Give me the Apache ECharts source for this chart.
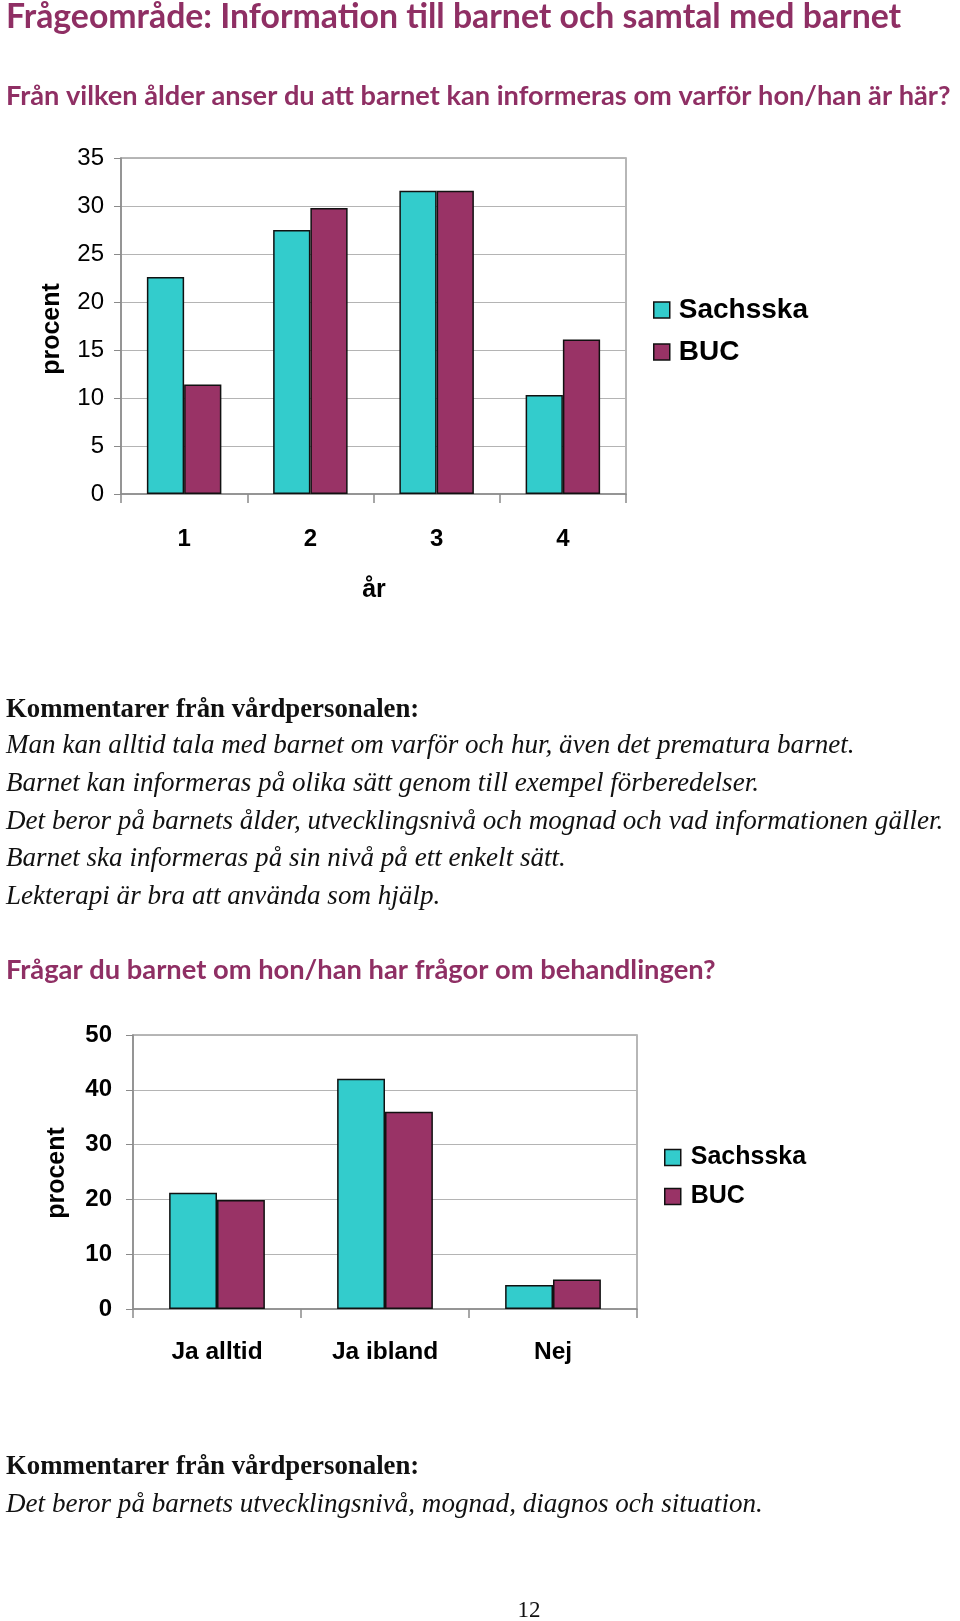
<!DOCTYPE html>
<html><head><meta charset="utf-8">
<script src="https://cdn.jsdelivr.net/npm/echarts@6/dist/echarts.min.js"></script>
<style>html,body{margin:0;padding:0;background:#fff}#c{width:960px;height:1621px}</style>
</head><body><div id="c"></div>
<script>
// ---- data ----
const categories1 = ['1', '2', '3', '4'];
const sachsska1 = [22.6, 27.5, 31.6, 10.3];
const buc1 = [11.4, 29.8, 31.6, 16.1];
const categories2 = ['Ja alltid', 'Ja ibland', 'Nej'];
const sachsska2 = [21.2, 42.0, 4.4];
const buc2 = [19.9, 36.0, 5.4];
const seriesNames = ['Sachsska', 'BUC'];
const pageTitle = 'Frågeområde: Information till barnet och samtal med barnet';
const question1 = 'Från vilken ålder anser du att barnet kan informeras om varför hon/han är här?';
const question2 = 'Frågar du barnet om hon/han har frågor om behandlingen?';
const commentHead = 'Kommentarer från vårdpersonalen:';
const comments1 = [
  'Man kan alltid tala med barnet om varför och hur, även det prematura barnet.',
  'Barnet kan informeras på olika sätt genom till exempel förberedelser.',
  'Det beror på barnets ålder, utvecklingsnivå och mognad och vad informationen gäller.',
  'Barnet ska informeras på sin nivå på ett enkelt sätt.',
  'Lekterapi är bra att använda som hjälp.'
];
const comments2 = ['Det beror på barnets utvecklingsnivå, mognad, diagnos och situation.'];
const pageNumber = '12';
const xName1 = 'år';
const yName = 'procent';

// ---- style ----
const TEAL = '#33CCCC', MAROON = '#993366', HEAD = '#8f2f64';
const SANS = '"Liberation Sans", Arial, sans-serif';
const HUM = 'Lato, "Open Sans", sans-serif';
const SERIF = '"Liberation Serif", "DejaVu Serif", serif';

const chart = echarts.init(document.getElementById('c'), null, {renderer: 'canvas'});

function txt(text, x, y, font, fill, extra) {
  return {type: 'text', style: Object.assign({text, x, y, font, fill, align: 'left', verticalAlign: 'middle'}, extra || {})};
}
const graphics = [
  txt(pageTitle, 6, 17, 'bold 33.8px ' + HUM, HEAD),
  txt(question1, 6, 96, 'bold 27.2px ' + HUM, HEAD),
  txt(commentHead, 6, 710, 'bold 26.8px ' + SERIF, '#111'),
  txt(question2, 6, 970, 'bold 27.3px ' + HUM, HEAD),
  txt(commentHead, 6, 1467, 'bold 26.8px ' + SERIF, '#111'),
  txt(pageNumber, 529, 1611, '23px ' + SERIF, '#111', {align: 'center'}),
  txt(xName1, 374, 590, 'bold 25px ' + SANS, '#000', {align: 'center'}),
  {type: 'text', x: 52, y: 329, rotation: Math.PI / 2,
   style: {text: yName, x: 0, y: 0, font: 'bold 25px ' + SANS, fill: '#000', align: 'center', verticalAlign: 'middle'}},
  {type: 'text', x: 57, y: 1173, rotation: Math.PI / 2,
   style: {text: yName, x: 0, y: 0, font: 'bold 25px ' + SANS, fill: '#000', align: 'center', verticalAlign: 'middle'}}
];
comments1.forEach((c, i) => graphics.push(txt(c, 6, 746 + i * 37.7, 'italic 27.1px ' + SERIF, '#111')));
comments2.forEach((c, i) => graphics.push(txt(c, 6, 1505 + i * 37.7, 'italic 27.1px ' + SERIF, '#111')));

const gridLine = {show: true, lineStyle: {color: '#b4b4b4', width: 1.2}};
const axisGray = {show: true, lineStyle: {color: '#8a8a8a', width: 1.5}};
const barStyle = c => ({color: c, borderColor: '#111', borderWidth: 1.5});

chart.setOption({
  animation: false,
  backgroundColor: '#fff',
  graphic: graphics,
  legend: [
    {data: seriesNames, orient: 'vertical', left: 653, top: 296, padding: 0, itemWidth: 16, itemHeight: 16, itemGap: 14,
     icon: 'rect', itemStyle: {borderColor: '#111', borderWidth: 1.5},
     textStyle: {fontFamily: SANS, fontWeight: 'bold', fontSize: 28, color: '#000', padding: [0, 0, 0, 4]},
     selectedMode: false},
    {data: seriesNames, orient: 'vertical', left: 664, top: 1145, padding: 0, itemWidth: 16, itemHeight: 16, itemGap: 14,
     icon: 'rect', itemStyle: {borderColor: '#111', borderWidth: 1.5},
     textStyle: {fontFamily: SANS, fontWeight: 'bold', fontSize: 25, color: '#000', padding: [0, 0, 0, 5]},
     selectedMode: false}
  ],
  grid: [
    {left: 121, top: 158, width: 505, height: 336, show: true, borderColor: '#a0a0a0', borderWidth: 1.5, backgroundColor: '#fff'},
    {left: 133, top: 1035, width: 504, height: 274, show: true, borderColor: '#a0a0a0', borderWidth: 1.5, backgroundColor: '#fff'}
  ],
  xAxis: [
    {type: 'category', gridIndex: 0, data: categories1, axisLine: axisGray,
     axisTick: {show: true, length: 9, lineStyle: {color: '#8a8a8a', width: 1.5}},
     axisLabel: {margin: 33, fontFamily: SANS, fontWeight: 'bold', fontSize: 24, color: '#000'}},
    {type: 'category', gridIndex: 1, data: categories2, axisLine: axisGray,
     axisTick: {show: true, length: 9, lineStyle: {color: '#8a8a8a', width: 1.5}},
     axisLabel: {margin: 31, fontFamily: SANS, fontWeight: 'bold', fontSize: 24.5, color: '#000'}}
  ],
  yAxis: [
    {type: 'value', gridIndex: 0, min: 0, max: 35, interval: 5, axisLine: axisGray,
     axisTick: {show: true, length: 7, lineStyle: {color: '#8a8a8a'}}, splitLine: gridLine,
     axisLabel: {margin: 17, fontFamily: SANS, fontSize: 24, color: '#000'}},
    {type: 'value', gridIndex: 1, min: 0, max: 50, interval: 10, axisLine: axisGray,
     axisTick: {show: true, length: 7, lineStyle: {color: '#8a8a8a'}}, splitLine: gridLine,
     axisLabel: {margin: 21, fontFamily: SANS, fontWeight: 'bold', fontSize: 24, color: '#000'}}
  ],
  series: [
    {name: seriesNames[0], type: 'bar', xAxisIndex: 0, yAxisIndex: 0, data: sachsska1, itemStyle: barStyle(TEAL), barGap: '0%', barCategoryGap: '41%'},
    {name: seriesNames[1], type: 'bar', xAxisIndex: 0, yAxisIndex: 0, data: buc1, itemStyle: barStyle(MAROON), barGap: '0%', barCategoryGap: '41%'},
    {name: seriesNames[0], type: 'bar', xAxisIndex: 1, yAxisIndex: 1, data: sachsska2, itemStyle: barStyle(TEAL), barGap: '0%', barCategoryGap: '43%'},
    {name: seriesNames[1], type: 'bar', xAxisIndex: 1, yAxisIndex: 1, data: buc2, itemStyle: barStyle(MAROON), barGap: '0%', barCategoryGap: '43%'}
  ]
});
</script></body></html>
